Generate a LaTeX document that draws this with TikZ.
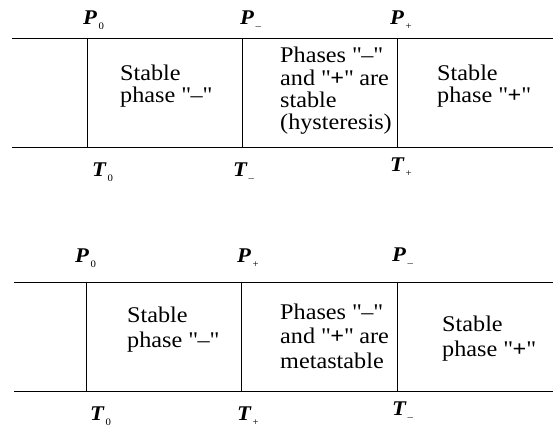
\documentclass[tikz,border=0pt]{standalone}
\usepackage{fontspec}
\setmainfont{Liberation Serif}[FakeStretch=1.08]
\usepackage{tikz}
\usetikzlibrary{positioning}

\newcommand{\qsym}[2]{{\bfseries\itshape #1}\kern1.5bp\raisebox{-5bp}{\fontsize{10}{10}\selectfont #2}}
\newcommand{\qt}[1]{\textquotedbl#1\textquotedbl}

\begin{document}
\begin{tikzpicture}[x=1bp,y=-1bp,
  ln/.style={line width=0.9pt},
  reg/.style={align=left,anchor=base west,inner sep=0pt,
    font=\fontsize{22.5}{22.5}\selectfont},
  wide/.style={font=\fontsize{22.5}{24.5}\selectfont},
  lab/.style={anchor=base west,inner sep=0pt,font=\fontsize{21}{21}\selectfont}]
\useasboundingbox (0,0) rectangle (553,439);

% upper panel: hysteresis
\coordinate (a1) at (12,38);   \coordinate (a2) at (553,38);
\coordinate (b1) at (12,147);  \coordinate (b2) at (553,147);
\coordinate (u0) at (87,38);   \coordinate (l0) at (87,147);
\coordinate (u1) at (242,38);  \coordinate (l1) at (242,147);
\coordinate (u2) at (397,38);  \coordinate (l2) at (397,147);
\draw[ln] (a1)--(a2); \draw[ln] (b1)--(b2);
\draw[ln] (u0)--(l0); \draw[ln] (u1)--(l1); \draw[ln] (u2)--(l2);

\node[lab] (p0) at (83,25)  {\qsym{P}{0}};
\node[lab] (pm) at (240,25) {\qsym{P}{--}};
\node[lab] (pp) at (390,25) {\qsym{P}{+}};
\node[lab] (t0) at (92,177)  {\qsym{T}{0}};
\node[lab] (tm) at (233,177) {\qsym{T}{--}};
\node[lab] (tp) at (390,172) {\qsym{T}{+}};

% base anchor sits on the last line
\node[reg] (s1) at (120,103) {Stable\\phase \qt{--}};
\node[reg] (s2) at (280,130) {Phases \qt{--}\\and \qt{\textbf{+}} are\\stable\\(hysteresis)};
\node[reg] (s3) at (437,103) {Stable\\phase \qt{\textbf{+}}};

% lower panel: metastability
\coordinate (c1) at (14,282);  \coordinate (c2) at (553,282);
\coordinate (d1) at (14,391);  \coordinate (d2) at (553,391);
\coordinate (v0) at (86,282);  \coordinate (w0) at (86,391);
\coordinate (v1) at (241,282); \coordinate (w1) at (241,391);
\coordinate (v2) at (397,282); \coordinate (w2) at (397,391);
\draw[ln] (c1)--(c2); \draw[ln] (d1)--(d2);
\draw[ln] (v0)--(w0); \draw[ln] (v1)--(w1); \draw[ln] (v2)--(w2);

\node[lab] (q0) at (75,263)  {\qsym{P}{0}};
\node[lab] (qp) at (237,263) {\qsym{P}{+}};
\node[lab] (qm) at (392,262) {\qsym{P}{--}};
\node[lab] (r0) at (90,420)  {\qsym{T}{0}};
\node[lab] (rp) at (237,420) {\qsym{T}{+}};
\node[lab] (rm) at (392,415) {\qsym{T}{--}};

\node[reg,wide] (m1) at (127,347) {Stable\\phase \qt{--}};
\node[reg,wide] (m2) at (280,368) {Phases \qt{--}\\and \qt{\textbf{+}} are\\metastable};
\node[reg,wide] (m3) at (442,356) {Stable\\phase \qt{\textbf{+}}};
\end{tikzpicture}
\end{document}
